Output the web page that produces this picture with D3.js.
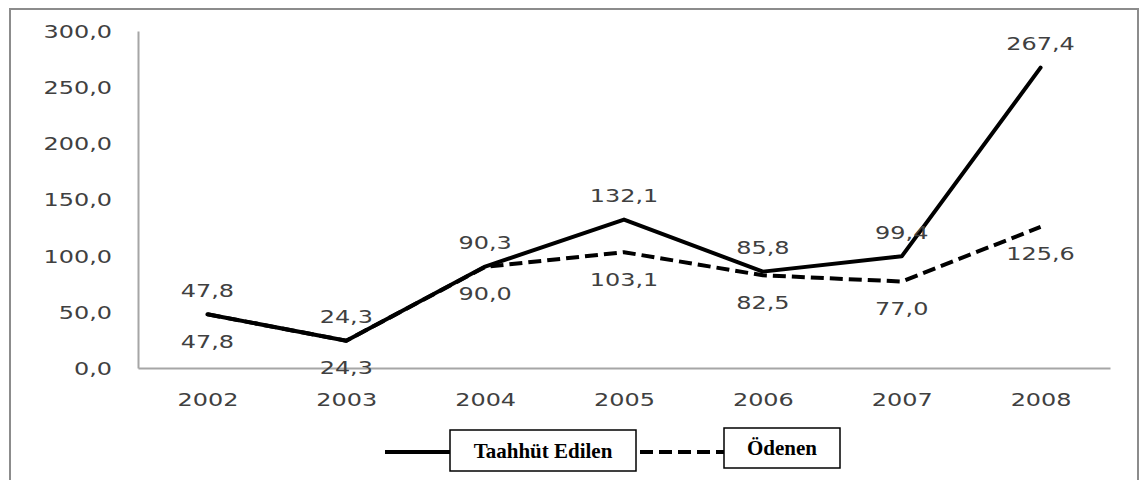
<!DOCTYPE html>
<html>
<head>
<meta charset="utf-8">
<script src="https://cdn.jsdelivr.net/npm/d3@7"></script>
<style>
  html, body { margin: 0; padding: 0; background: #fff; }
  svg { display: block; }
</style>
</head>
<body>
<svg id="chart" width="1141" height="480"></svg>
<script>
// Yıllar ve seriler (milyon)
const years = ["2002", "2003", "2004", "2005", "2006", "2007", "2008"];
const taahhut = [47.8, 24.3, 90.3, 132.1, 85.8, 99.4, 267.4];
const odenen = [47.8, 24.3, 90.0, 103.1, 82.5, 77.0, 125.6];
const yTicks = [0, 50, 100, 150, 200, 250, 300];
const seriesNames = ["Taahhüt Edilen", "Ödenen"];

const trLocale = d3.formatLocale({ decimal: ",", thousands: ".", grouping: [3], currency: ["", " TL"] });
const fmt = trLocale.format(".1f");

const svg = d3.select("#chart");
const textColor = "#404040";
const labelFont = "DejaVu Sans, Verdana, sans-serif";
const stretch = "scale(1.33,1)";

// Dış çerçeve
svg.append("rect")
  .attr("x", 10).attr("y", 9)
  .attr("width", 1128).attr("height", 490)
  .attr("fill", "none").attr("stroke", "#8c8c8c").attr("stroke-width", 2);

const x = d3.scalePoint().domain(years).range([138, 1110]).padding(0.5);
const y = d3.scaleLinear().domain([0, 300]).range([368, 31]);

// Y ekseni
const yAxis = svg.append("g")
  .attr("transform", "translate(138,0)")
  .call(d3.axisLeft(y).tickValues(yTicks).tickFormat(fmt).tickSize(0).tickPadding(0));
yAxis.select(".domain").attr("stroke", "#a6a6a6").attr("stroke-width", 2);
yAxis.selectAll("text")
  .attr("x", null)
  .attr("dy", "0.36em")
  .attr("transform", `translate(-26,0) ${stretch}`)
  .attr("fill", textColor)
  .style("font-family", labelFont)
  .style("font-size", "18px");

// X ekseni
const xAxis = svg.append("g")
  .attr("transform", `translate(0,${y(0)})`)
  .call(d3.axisBottom(x).tickSize(0).tickPadding(0));
xAxis.select(".domain").attr("stroke", "#a6a6a6").attr("stroke-width", 2);
xAxis.selectAll("text")
  .attr("y", null)
  .attr("dy", "0.36em")
  .attr("transform", `translate(0,32) ${stretch}`)
  .attr("fill", textColor)
  .style("font-family", labelFont)
  .style("font-size", "18px");

const line = d3.line().x((d, i) => x(years[i])).y(d => y(d));

// Ödenen (kesikli)
svg.append("path")
  .datum(odenen)
  .attr("d", line)
  .attr("fill", "none")
  .attr("stroke", "#000")
  .attr("stroke-width", 4)
  .attr("stroke-dasharray", "13,6")
  .attr("stroke-linejoin", "round");

// Taahhüt edilen (düz)
svg.append("path")
  .datum(taahhut)
  .attr("d", line)
  .attr("fill", "none")
  .attr("stroke", "#000")
  .attr("stroke-width", 4)
  .attr("stroke-linejoin", "round")
  .attr("stroke-linecap", "round");

// Değer etiketleri
function addLabels(values, offset) {
  svg.append("g").selectAll("text")
    .data(values)
    .join("text")
    .attr("transform", (d, i) => `translate(${x(years[i])},${y(d) + offset}) ${stretch}`)
    .attr("text-anchor", "middle")
    .attr("dy", "0.36em")
    .attr("fill", textColor)
    .style("font-family", labelFont)
    .style("font-size", "18px")
    .text(d => fmt(d));
}
addLabels(taahhut, -24);
addLabels(odenen, 27);

// Gösterge
const legend = svg.append("g");
legend.append("line")
  .attr("x1", 385).attr("x2", 450).attr("y1", 452).attr("y2", 452)
  .attr("stroke", "#000").attr("stroke-width", 4);
legend.append("rect")
  .attr("x", 450).attr("y", 430).attr("width", 186).attr("height", 41)
  .attr("fill", "#fff").attr("stroke", "#000").attr("stroke-width", 1.5);
legend.append("text")
  .attr("x", 543).attr("y", 451).attr("dy", "0.35em")
  .attr("text-anchor", "middle")
  .style("font-family", "Liberation Serif, Times New Roman, serif")
  .style("font-weight", "bold").style("font-size", "21px")
  .text(seriesNames[0]);

legend.append("line")
  .attr("x1", 640).attr("x2", 724).attr("y1", 452).attr("y2", 452)
  .attr("stroke", "#000").attr("stroke-width", 4)
  .attr("stroke-dasharray", "13,6");
legend.append("rect")
  .attr("x", 724).attr("y", 428).attr("width", 116).attr("height", 40)
  .attr("fill", "#fff").attr("stroke", "#000").attr("stroke-width", 1.5);
legend.append("text")
  .attr("x", 782).attr("y", 448).attr("dy", "0.35em")
  .attr("text-anchor", "middle")
  .style("font-family", "Liberation Serif, Times New Roman, serif")
  .style("font-weight", "bold").style("font-size", "21px")
  .text(seriesNames[1]);
</script>
</body>
</html>
